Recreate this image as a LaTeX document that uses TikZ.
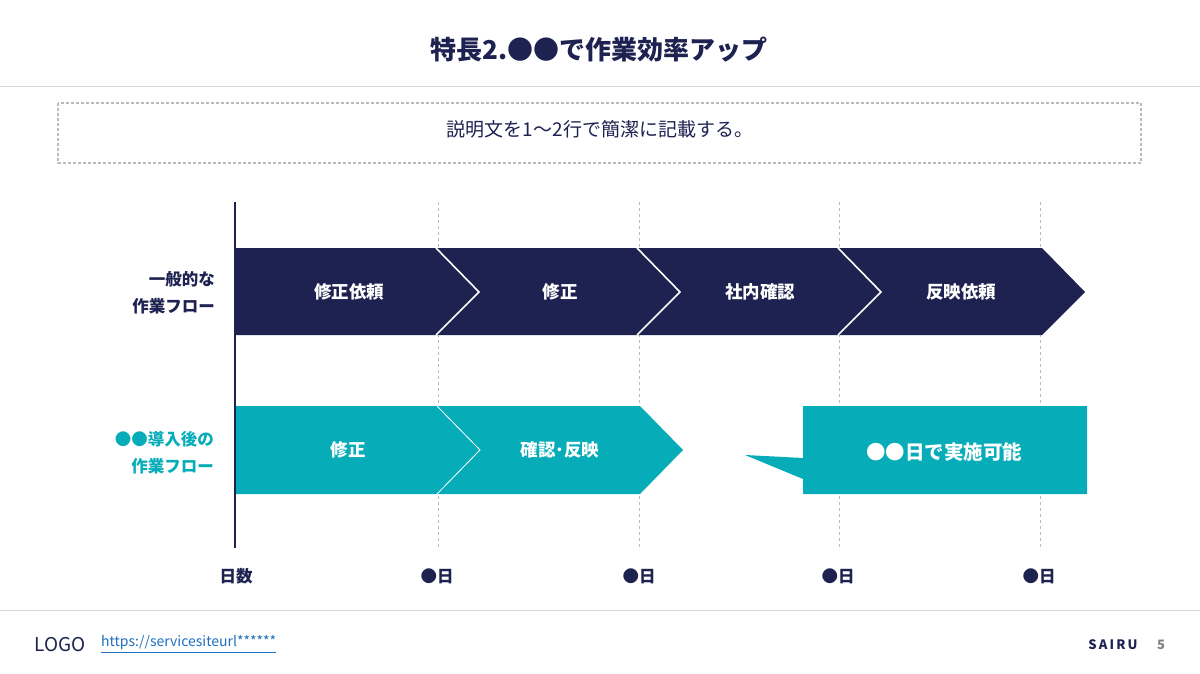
\documentclass[tikz,border=0pt]{standalone}
\usepackage{fontspec}
\setmainfont{Noto Sans CJK JP}
\definecolor{navy}{HTML}{1E2250}
\definecolor{tealc}{HTML}{06ADB9}
\definecolor{gridgray}{HTML}{BBBBBB}
\definecolor{rulegray}{HTML}{D6D6D6}
\definecolor{linkblue}{HTML}{1F6FBF}
\tikzset{
  lbl/.style={text=white,font=\fontsize{17.5}{19}\selectfont\bfseries,inner sep=0pt},
  rowlbl/.style={font=\fontsize{16.5}{27}\selectfont\bfseries,align=right,anchor=east,inner sep=0pt},
  daylbl/.style={text=navy,font=\fontsize{16.5}{18}\selectfont\bfseries,inner sep=0pt},
  grid/.style={gridgray,line width=0.8pt,dash pattern=on 3pt off 3pt},
  sep/.style={white,line width=1.6pt},
}
\begin{document}
\begin{tikzpicture}[x=1pt,y=-1pt]
\useasboundingbox (0,0) rectangle (1200,674);
\fill[white] (0,0) rectangle (1200,674);
% title
\node[text=navy,font=\fontsize{26}{28}\selectfont\bfseries,inner sep=0pt] (title) at (599,50) {特長2.●●で作業効率アップ};
\draw[rulegray,line width=1pt] (0,87) -- (1200,87);
% description box
\draw[gridgray,line width=1.2pt,dash pattern=on 3pt off 2pt] (58,103) rectangle (1141,163);
\node[text=navy,font=\fontsize{19}{21}\selectfont,inner sep=0pt] (desc) at (600,129) {説明文を1〜2行で簡潔に記載する。};
% grid lines
\foreach \x in {438,639,839,1040} \draw[grid] (\x,202) -- (\x,548);
% top row chevrons
\fill[navy] (235,248) -- (1042,248) -- (1085,292) -- (1042,335) -- (235,335) -- cycle;
\draw[sep] (436,248) -- (479,292) -- (436,335);
\draw[sep] (637,248) -- (680,292) -- (637,335);
\draw[sep] (838,248) -- (881,292) -- (838,335);
\node[lbl] (a1) at (349,292) {修正依頼};
\node[lbl] (a2) at (560,292) {修正};
\node[lbl] (a3) at (760,292) {社内確認};
\node[lbl] (a4) at (961,292) {反映依頼};
% bottom row chevrons
\fill[tealc] (235,406) -- (640,406) -- (683,450) -- (640,494) -- (235,494) -- cycle;
\draw[white,line width=0.8pt] (437,406) -- (480,450) -- (437,494);
\node[lbl] (b1) at (348,450) {修正};
\node[lbl] (b2) at (560,450) {確認･反映};
% callout
\fill[tealc] (803,406) -- (1087,406) -- (1087,494) -- (803,494) -- (803,479) -- (745,455) -- (803,458) -- cycle;
\node[text=white,font=\fontsize{19.5}{21}\selectfont\bfseries,inner sep=0pt] (call) at (944,452) {●●日で実施可能};
% axis
\draw[navy,line width=2pt] (235,202) -- (235,548);
% row labels
\node[rowlbl,text=navy] (r1) at (215,293) {一般的な\\作業フロー};
\node[rowlbl,text=tealc] (r2) at (214,453) {●●導入後の\\作業フロー};
% day labels
\node[daylbl] (d0) at (236,576) {日数};
\node[daylbl] (d1) at (437,576) {●日};
\node[daylbl] (d2) at (639,576) {●日};
\node[daylbl] (d3) at (838,576) {●日};
\node[daylbl] (d4) at (1039,576) {●日};
% footer
\draw[rulegray,line width=1pt] (0,610) -- (1200,610);
\node[text=navy,font=\fontsize{19}{21}\selectfont,inner sep=0pt] (logo) at (60,645) {LOGO};
\node[text=linkblue,font=\fontsize{14}{16}\selectfont,inner sep=0pt,anchor=west] (link) at (101,643) {https://servicesiteurl******};
\draw[linkblue,line width=0.9pt] ([yshift=-2pt]link.south west) -- ([yshift=-2pt]link.south east);
\node[text=navy,font=\fontsize{13}{15}\selectfont\bfseries,inner sep=0pt] (sairu) at (1113,645) {S\,A\,I\,R\,U};
\node[text=gray,font=\fontsize{13}{15}\selectfont\bfseries,inner sep=0pt] (pg) at (1161,645) {5};
\end{tikzpicture}
\end{document}
